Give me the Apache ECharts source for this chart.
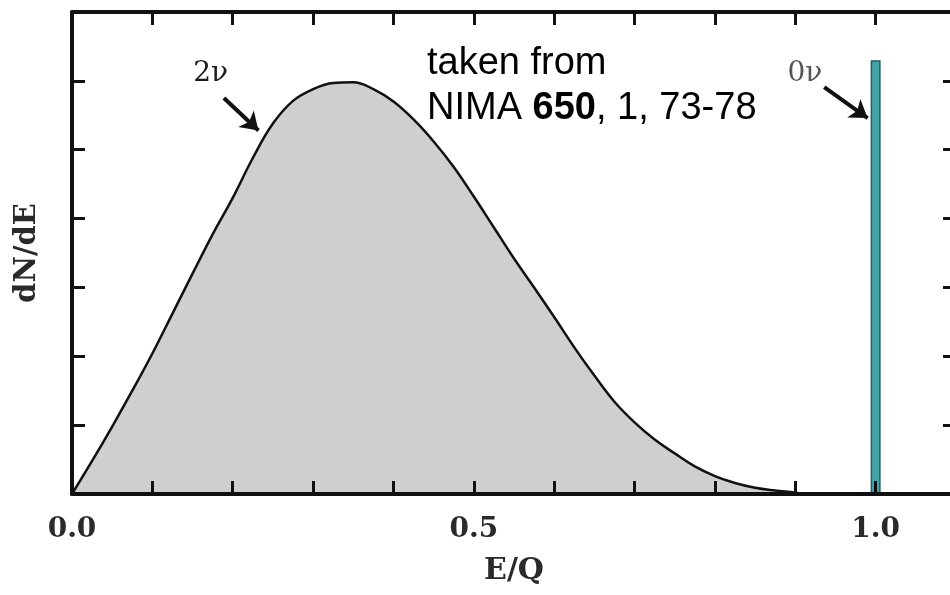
<!DOCTYPE html>
<html>
<head>
<meta charset="utf-8">
<script src="https://cdn.jsdelivr.net/npm/echarts@6/dist/echarts.min.js"></script>
<style>
  html, body { margin: 0; padding: 0; background: #fff; }
  #chart { width: 950px; height: 595px; }
</style>
</head>
<body>
<div id="chart"></div>
<script>
// Two-neutrino spectrum (E/Q, dN/dE in arbitrary units)
var twoNuE = [0.0, 0.025, 0.05, 0.075, 0.10, 0.125, 0.15, 0.175, 0.20, 0.225, 0.25, 0.275, 0.30, 0.325, 0.35, 0.375, 0.40, 0.425, 0.45, 0.475, 0.50, 0.525, 0.55, 0.575, 0.60, 0.625, 0.65, 0.675, 0.70, 0.725, 0.75, 0.775, 0.80, 0.825, 0.85, 0.875, 0.90, 0.91];
var twoNuN = [0.0, 0.48, 0.98, 1.50, 2.04, 2.62, 3.20, 3.77, 4.30, 4.88, 5.38, 5.71, 5.88, 5.97, 5.98, 5.88, 5.70, 5.44, 5.12, 4.75, 4.32, 3.87, 3.42, 3.00, 2.57, 2.13, 1.72, 1.34, 1.04, 0.79, 0.59, 0.40, 0.26, 0.16, 0.09, 0.05, 0.02, 0.0];

// Neutrinoless peak at the endpoint
var zeroNuE = [1.0];
var zeroNuN = [6.3];

// Axis ticks
var xTickValues = [0.0, 0.5, 1.0];
var xTickLabels = ['0.0', '0.5', '1.0'];

// Annotation arrows: label text, label position, arrow start, arrow end (data units)
var annotLabels = ['2\u03BD', '0\u03BD'];
var annotLabelPos = [[0.1725, 6.11], [0.912, 6.11]];
var annotArrowFrom = [[0.189, 5.75], [0.936, 5.91]];
var annotArrowTo = [[0.232, 5.28], [0.99, 5.46]];

var chart = echarts.init(document.getElementById('chart'), null, { renderer: 'canvas' });

var serif = '"DejaVu Serif", "Liberation Serif", serif';
var axisColor = '#111';

function tickLabel(v) {
  for (var i = 0; i < xTickValues.length; i++) {
    if (Math.abs(v - xTickValues[i]) < 1e-6) return xTickLabels[i];
  }
  return '';
}

var frameAxis = {
  axisLine: { show: true, onZero: false, lineStyle: { color: axisColor, width: 4 } },
  axisTick: { show: true, inside: true, length: 13, lineStyle: { color: axisColor, width: 3 } },
  splitLine: { show: false },
  z: 10
};

var twoNuData = twoNuE.map(function (e, i) { return [e, twoNuN[i]]; });
var zeroNuData = zeroNuE.map(function (e, i) { return [e, zeroNuN[i]]; });

var arrowLines = annotArrowFrom.map(function (p, i) {
  return [{ coord: p, symbol: 'none' }, { coord: annotArrowTo[i], symbol: 'arrow' }];
});
var labelPoints = annotLabels.map(function (t, i) {
  return {
    coord: annotLabelPos[i],
    value: t,
    label: { color: i === 0 ? '#1a1a1a' : '#555' }
  };
});

chart.setOption({
  animation: false,
  backgroundColor: '#fff',
  grid: { left: 72, top: 12, width: 884, height: 482, containLabel: false, outerBoundsMode: 'none' },
  xAxis: [
    Object.assign({}, frameAxis, {
      type: 'value', position: 'bottom', min: 0, max: 1.1, interval: 0.1,
      name: 'E/Q', nameLocation: 'middle', nameGap: 62,
      nameTextStyle: { fontFamily: serif, fontWeight: 'bold', fontSize: 30, color: '#2a2a2a' },
      axisLabel: {
        show: true, margin: 22, formatter: tickLabel,
        fontFamily: serif, fontWeight: 'bold', fontSize: 28, color: '#2a2a2a'
      }
    }),
    Object.assign({}, frameAxis, {
      type: 'value', position: 'top', min: 0, max: 1.1, interval: 0.1,
      axisLabel: { show: false }
    })
  ],
  yAxis: [
    Object.assign({}, frameAxis, {
      type: 'value', position: 'left', min: 0, max: 7, interval: 1,
      name: 'dN/dE', nameLocation: 'middle', nameGap: 30, nameRotate: 90,
      nameTextStyle: { fontFamily: serif, fontWeight: 'bold', fontSize: 29, color: '#2a2a2a' },
      axisLabel: { show: false }
    }),
    Object.assign({}, frameAxis, {
      type: 'value', position: 'right', min: 0, max: 7, interval: 1,
      axisLabel: { show: false }
    })
  ],
  series: [
    {
      name: '2nu',
      type: 'line',
      data: twoNuData,
      smooth: 0.4,
      showSymbol: false,
      symbol: 'none',
      lineStyle: { color: '#111', width: 2.5 },
      areaStyle: { color: '#cfcfcf', opacity: 1 },
      z: 2,
      markLine: {
        silent: true,
        symbolSize: [17, 17],
        lineStyle: { color: '#111', width: 4, type: 'solid' },
        label: { show: false },
        data: arrowLines
      },
      markPoint: {
        silent: true,
        symbol: 'circle',
        symbolSize: 0,
        label: {
          show: true, position: 'inside', formatter: '{c}',
          fontFamily: serif, fontSize: 28
        },
        data: labelPoints
      }
    },
    {
      name: '0nu',
      type: 'bar',
      data: zeroNuData,
      barWidth: 10,
      itemStyle: { color: '#46a4a8', borderColor: '#1f5f63', borderWidth: 1.5 },
      z: 3
    }
  ],
  graphic: [
    {
      type: 'text',
      left: 427,
      top: 41,
      z: 20,
      style: {
        text: 'taken from\n{a|NIMA }{b|650}{a|, 1, 73-78}',
        fontFamily: '"Liberation Sans", Arial, sans-serif',
        fontSize: 38,
        lineHeight: 45,
        fill: '#000',
        rich: {
          a: { fontFamily: '"Liberation Sans", Arial, sans-serif', fontSize: 38, lineHeight: 45, fill: '#000' },
          b: { fontFamily: '"Liberation Sans", Arial, sans-serif', fontSize: 38, lineHeight: 45, fontWeight: 'bold', fill: '#000' }
        }
      }
    }
  ]
});
</script>
</body>
</html>
